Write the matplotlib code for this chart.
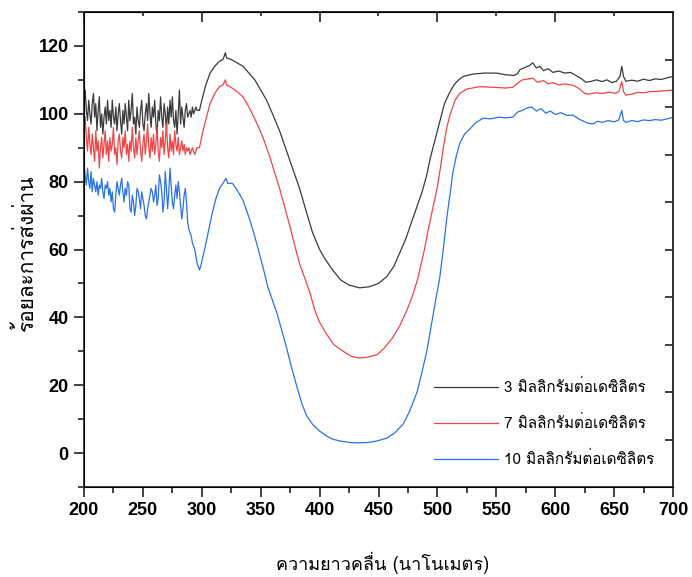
import numpy as np
import matplotlib
matplotlib.use("Agg")
from matplotlib import pyplot as plt
from matplotlib import font_manager, ft2font
from matplotlib.ticker import MultipleLocator


def find_thai_font():
    # pick any installed font that has Thai glyphs
    for f in font_manager.fontManager.ttflist:
        try:
            cmap = ft2font.FT2Font(f.fname).get_charmap()
        except Exception:
            continue
        if 0x0E01 in cmap and 0x0E34 in cmap and 0x0E48 in cmap:
            return f.name
    return "DejaVu Sans"


thai = find_thai_font()

# noisy part of the spectra, 200-296 nm every 1 nm
wl_noisy = list(range(200, 297))
t3_noisy = [105, 107, 101, 98, 104, 100, 97, 103, 106, 99,
            103, 95, 101, 105, 96, 100, 94, 99, 102, 97,
            104, 98, 101, 96, 104, 99, 97, 102, 95, 100,
            103, 98, 94, 101, 97, 103, 99, 95, 104, 98,
            101, 106, 97, 99, 94, 102, 98, 96, 101, 104,
            97, 95, 100, 103, 98, 106, 100, 96, 102, 99,
            104, 97, 93, 101, 98, 105, 99, 96, 103, 100,
            95, 102, 97, 104, 99, 105, 98, 96, 101, 94,
            100, 107, 97, 102, 99, 96, 101, 103, 99, 100,
            101, 99, 102, 100, 101, 102, 101]
t7_noisy = [97, 99, 93, 89, 96, 91, 88, 94, 90, 86,
            95, 89, 92, 84, 90, 93, 87, 91, 95, 88,
            92, 86, 93, 89, 91, 96, 88, 90, 85, 92,
            94, 89, 87, 93, 90, 95, 88, 91, 86, 92,
            89, 96, 90, 87, 93, 88, 92, 95, 89, 86,
            91, 94, 88, 92, 97, 90, 87, 93, 89, 94,
            88, 91, 96, 89, 86, 93, 90, 95, 88, 92,
            97, 90, 87, 94, 89, 92, 88, 95, 91, 89,
            93, 88, 90, 92, 89, 91, 88, 90, 89, 90,
            88, 89, 90, 89, 88, 89, 90]
t10_noisy = [85, 82, 79, 84, 80, 78, 83, 77, 81, 79,
             77, 80, 76, 79, 78, 81, 77, 75, 79, 78,
             80, 76, 78, 74, 77, 72, 71, 76, 80, 78,
             76, 79, 81, 77, 74, 78, 76, 80, 79, 72,
             71, 76, 74, 70, 73, 78, 77, 75, 72, 77,
             75, 73, 70, 69, 72, 74, 76, 78, 77, 74,
             76, 79, 73, 75, 82, 80, 77, 71, 74, 83,
             78, 72, 77, 84, 79, 74, 72, 76, 79, 75,
             80, 77, 73, 69, 72, 76, 78, 74, 68, 66,
             65, 64, 62, 61, 60, 58, 56]

# smooth part of the spectra
wl3 = [298, 300, 303, 307, 311, 315, 318, 320, 321, 325, 330, 335, 340, 345, 350, 355,
       360, 366, 372, 378, 383, 388, 394, 400, 405, 411, 418, 425, 434, 442, 450, 457,
       463, 468, 473, 477, 482, 487, 491, 494, 497, 500, 503, 506, 510, 514, 518, 522,
       530, 540, 550, 558, 565, 568, 570, 574, 578, 581, 584, 587, 590, 594, 598, 603,
       608, 613, 618, 622, 626, 630, 635, 640, 644, 648, 652, 655, 656.5, 658, 660, 665,
       670, 675, 680, 685, 690, 695, 700]
t3 = [101, 104, 108, 112, 114, 115.5, 116, 118, 116.5, 116, 115, 114, 112, 110, 107, 104,
      100, 95, 89, 83, 78, 72, 65, 60, 57, 54, 51, 49.5, 48.7, 49, 50, 52,
      55, 59, 63, 67, 72, 77, 82, 87, 91, 95, 99, 103, 106, 108.5, 110, 111,
      111.7, 112, 112, 111.5, 111.3, 111.8, 113, 113.6, 114.2, 115, 113.5, 114, 112.7, 113.3, 112.2, 112.6,
      112, 112.2, 111.2, 110.4, 109.3, 109.5, 110, 109.5, 110, 109.2, 109.6, 111, 114, 111, 109.6, 109.9,
      109.6, 110.2, 109.8, 110.3, 110.1, 110.6, 111]

wl7 = [298, 301, 304, 307, 311, 315, 318, 320, 321, 324, 330, 335, 340, 347, 352, 358,
       362, 366, 370, 375, 379, 383, 388, 392, 396, 400, 406, 412, 420, 427, 434, 441,
       449, 455, 462, 468, 474, 479, 483, 486, 489, 492, 496, 500, 503, 505, 508, 511,
       515, 519, 525, 536, 548, 558, 564, 568, 572, 576, 581, 585, 590, 594, 598, 603,
       608, 615, 620, 625, 628, 635, 640, 646, 651, 654, 656.5, 658, 660, 665, 670, 675,
       680, 690, 700]
t7 = [90, 95, 99, 103, 106, 108, 108.5, 110, 108.5, 108, 106.5, 105, 102, 97, 93, 87,
      82.5, 78, 73, 66.5, 61, 55.8, 51, 47, 42, 38.5, 35, 32, 30, 28.5, 28, 28.3,
      29, 31, 34, 37.5, 42, 46.5, 51, 55.5, 60, 65.5, 72, 78.5, 85, 90, 96, 100,
      104, 106, 107.3, 108, 107.8, 107.6, 107.8, 109, 110, 110.2, 110.5, 109.3, 109.8, 108.8, 109.2, 108.5,
      108.8, 108.4, 107.5, 106, 105.8, 106.2, 106, 106.4, 106, 106.6, 109.5, 106.5, 105.5, 105.8, 106.3, 106.2,
      106.5, 106.7, 107]

wl10 = [298, 299, 301, 303, 306, 309, 312, 315, 318, 320.5, 322, 326, 330, 335, 340, 344,
        348, 352, 356, 360, 364, 368, 372, 376, 381, 385, 389, 394, 400, 406, 411, 418,
        426, 432, 440, 448, 457, 464, 471, 476, 480, 483, 487, 491, 494, 496, 499, 502,
        505, 508, 511, 513, 516, 519, 523, 528, 533, 539, 545, 552, 558, 564, 568, 572,
        576, 580, 584, 588, 592, 596, 600, 605, 610, 615, 620, 624, 628, 632, 636, 640,
        645, 650, 654, 656.5, 658, 660, 665, 670, 675, 680, 685, 690, 695, 700]
t10 = [54, 55, 58, 61, 66, 71, 75, 78, 79.5, 81, 79.5, 79.5, 77.5, 74.5, 69.5, 65,
       60, 54.7, 49, 45, 41, 36, 31, 25.5, 19.2, 14.5, 11, 8.5, 6.5, 5, 4.1, 3.5,
       3.1, 3, 3.1, 3.5, 4.4, 6, 8.6, 12, 15.5, 18.3, 24, 30, 36, 40, 46, 51.7,
       60, 69.4, 77, 82.4, 87.5, 91.3, 94, 95.7, 97.5, 98.7, 98.5, 99, 98.8, 99, 100.5, 101,
       101.7, 102, 100.8, 101.5, 100.2, 100.8, 99.8, 100.3, 99.5, 99.6, 98.5, 97.8, 97.2, 97, 97.8, 97.5,
       98, 97.6, 98.2, 101, 98, 97.5, 98, 97.7, 98.2, 98, 98.3, 98.1, 98.5, 99]

labels = ["3 มิลลิกรัมต่อเดซิลิตร", "7 มิลลิกรัมต่อเดซิลิตร", "10 มิลลิกรัมต่อเดซิลิตร"]
colors = ["#3a3a3a", "#f04545", "#2a72e6"]
xlabel = "ความยาวคลื่น (นาโนเมตร)"
ylabel = "ร้อยละการส่งผ่าน"

fig = plt.figure(figsize=(6.92, 5.77), dpi=100)
ax = fig.add_axes([84 / 692, 1 - 487 / 577, 589 / 692, 475 / 577])

series = [(wl3, t3_noisy, t3), (wl7, t7_noisy, t7), (wl10, t10_noisy, t10)]
for (wl, noisy, smooth), lab, c in zip(series, labels, colors):
    ax.plot(wl_noisy + wl, noisy + smooth, color=c, lw=0.9, label=lab)

ax.set_xlim(200, 700)
ax.set_ylim(-10, 130)
ax.xaxis.set_major_locator(MultipleLocator(50))
ax.xaxis.set_minor_locator(MultipleLocator(25))
ax.yaxis.set_minor_locator(MultipleLocator(10))
ax.set_yticks([0, 20, 40, 60, 80, 100, 120])
ax.tick_params(which="both", direction="out", width=1.3, color="#333333",
               top=False, right=False)
ax.tick_params(which="major", length=7, labelsize=13, pad=4)
ax.tick_params(which="minor", length=4)
for t in ax.get_xticklabels() + ax.get_yticklabels():
    t.set_fontweight("bold")
    t.set_family(["Liberation Sans", "DejaVu Sans"])
for s in ax.spines.values():
    s.set_linewidth(1.3)
    s.set_color("#333333")

# top and right frame ticks point inward
top = ax.secondary_xaxis("top")
top.xaxis.set_major_locator(MultipleLocator(100))
top.xaxis.set_minor_locator(MultipleLocator(50))
top.tick_params(which="both", direction="in", labeltop=False, width=1.3, color="#333333")
top.tick_params(which="major", length=7)
top.tick_params(which="minor", length=3)
top.spines["top"].set_linewidth(1.3)

right = ax.twinx()
right.set_ylim(0, 10)
right.set_yticks(range(1, 10))
right.tick_params(direction="in", length=6, width=1.3, color="#333333", labelright=False)
right.spines["right"].set_linewidth(1.3)
right.spines["right"].set_color("#333333")

ax.legend(loc="center left", bbox_to_anchor=(434 / 692, 1 - 423 / 577),
          bbox_transform=fig.transFigure, frameon=False,
          handlelength=4.2, handletextpad=0.4, labelspacing=1.3,
          borderpad=0, borderaxespad=0, prop={"family": [thai, "DejaVu Sans"], "size": 11})

fig.text(383 / 692, 1 - 563 / 577, xlabel, ha="center", va="center",
         fontsize=13, family=[thai, "DejaVu Sans"])
fig.text(25 / 692, 1 - 253 / 577, ylabel, ha="center", va="center", rotation=90,
         fontsize=15, family=[thai, "DejaVu Sans"])

fig.savefig("out.png", dpi=100)
